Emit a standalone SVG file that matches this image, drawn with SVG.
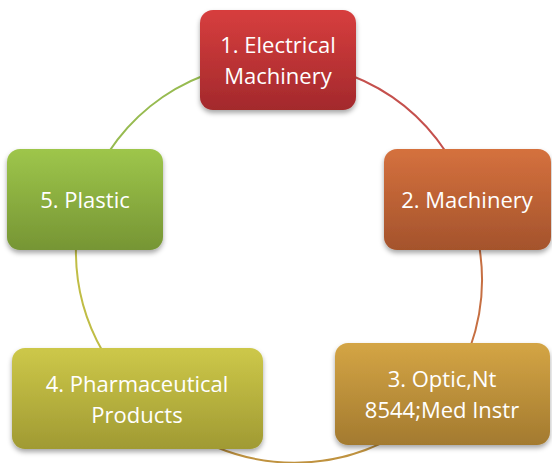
<svg xmlns="http://www.w3.org/2000/svg" width="552" height="463" viewBox="0 0 552 463">
<defs>
<style>
.lbl{font-family:"Open Sans","Noto Sans","DejaVu Sans",sans-serif;font-size:22px;fill:#ffffff;text-anchor:middle}
.conn{fill:none;stroke-width:2}
</style>
<filter id="sh" x="-20%" y="-20%" width="140%" height="150%">
<feDropShadow dx="0" dy="3" stdDeviation="2.5" flood-color="#000" flood-opacity="0.35"/>
</filter>
<linearGradient id="g1" x1="0" y1="0" x2="0" y2="1"><stop offset="0" stop-color="#d73e3e"/><stop offset="1" stop-color="#a3292c"/></linearGradient>
<linearGradient id="g2" x1="0" y1="0" x2="0" y2="1"><stop offset="0" stop-color="#d5713e"/><stop offset="1" stop-color="#a4532c"/></linearGradient>
<linearGradient id="g3" x1="0" y1="0" x2="0" y2="1"><stop offset="0" stop-color="#d4a545"/><stop offset="1" stop-color="#a37a2f"/></linearGradient>
<linearGradient id="g4" x1="0" y1="0" x2="0" y2="1"><stop offset="0" stop-color="#cdc849"/><stop offset="1" stop-color="#a09a33"/></linearGradient>
<linearGradient id="g5" x1="0" y1="0" x2="0" y2="1"><stop offset="0" stop-color="#9ec64b"/><stop offset="1" stop-color="#769534"/></linearGradient>
</defs>
<rect width="552" height="463" fill="#ffffff"/>
<g id="connectors">
<path class="conn" stroke="#c5504d" d="M350 75 A202 202 0 0 1 446 152"/>
<path class="conn" stroke="#c66f42" d="M479 245 A202 202 0 0 1 470 348"/>
<path class="conn" stroke="#bf923f" d="M384 442 A204 204 0 0 1 216 447"/>
<path class="conn" stroke="#c0bd45" d="M103 352 A202 202 0 0 1 76 245"/>
<path class="conn" stroke="#97bb50" d="M108 153 A202 202 0 0 1 205 75"/>
</g>
<g id="node1">
<rect x="200" y="10" width="156" height="100" rx="13" fill="url(#g1)" filter="url(#sh)"/>
<text class="lbl" x="278" y="53">1. Electrical</text>
<text class="lbl" x="278" y="84">Machinery</text>
</g>
<g id="node2">
<rect x="384" y="149" width="167" height="101" rx="13" fill="url(#g2)" filter="url(#sh)"/>
<text class="lbl" x="467" y="208">2. Machinery</text>
</g>
<g id="node3">
<rect x="335" y="343" width="215" height="102" rx="13" fill="url(#g3)" filter="url(#sh)"/>
<text class="lbl" x="442" y="387">3. Optic,Nt</text>
<text class="lbl" x="442" y="418">8544;Med Instr</text>
</g>
<g id="node4">
<rect x="12" y="348" width="251" height="101" rx="13" fill="url(#g4)" filter="url(#sh)"/>
<text class="lbl" x="137" y="392">4. Pharmaceutical</text>
<text class="lbl" x="137" y="423">Products</text>
</g>
<g id="node5">
<rect x="7" y="149" width="156" height="101" rx="13" fill="url(#g5)" filter="url(#sh)"/>
<text class="lbl" x="85" y="208">5. Plastic</text>
</g>
</svg>
